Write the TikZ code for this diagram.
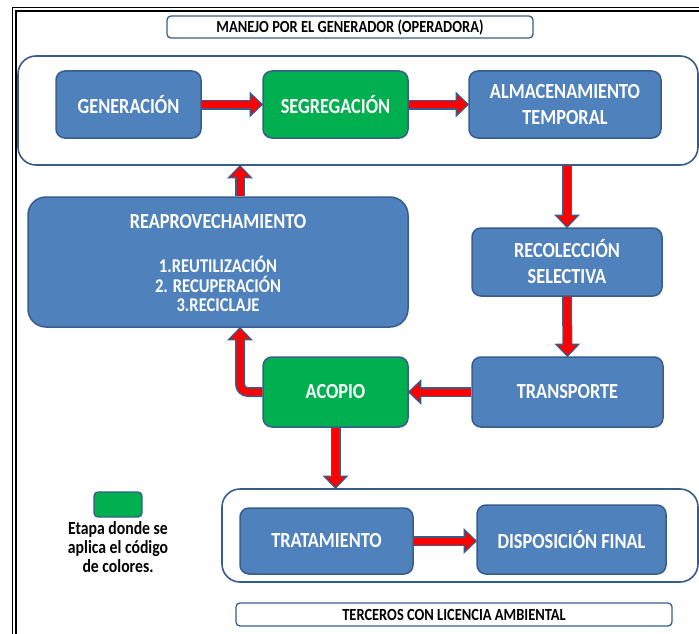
\documentclass[tikz,border=0pt]{standalone}
\usepackage{fontspec}
\setmainfont{Carlito}[FakeStretch=0.85]
\usetikzlibrary{calc}
\definecolor{bfill}{HTML}{4F81BD}
\definecolor{bline}{HTML}{385D8A}
\definecolor{gfill}{HTML}{00B050}
\definecolor{ared}{HTML}{FF0000}
\tikzset{
  stage/.style={draw=bline, line width=1.5pt, fill=bfill, rounded corners=9pt, text=white,
    font=\fontsize{21.5}{26}\selectfont\bfseries, align=center, inner sep=0pt},
  gstage/.style={stage, fill=gfill},
  panel/.style={draw=bline, line width=1.6pt, fill=white, rounded corners=18pt, inner sep=0pt},
  labelbox/.style={draw=bline, line width=1.3pt, fill=white, rounded corners=4pt,
    font=\fontsize{17}{19}\selectfont\bfseries, inner sep=0pt},
  fathead/.style={draw=bline, line width=1.2pt, fill=ared, line join=miter},
}
\newcommand\tiphead[2]{%
  \coordinate (hb) at ($(#2)!12pt!(#1)$);
  \filldraw[fathead] (#2) -- ($(hb)!11.5pt!90:(#2)$) -- ($(hb)!11.5pt!-90:(#2)$) -- cycle;}
\newcommand\fatarrow[3]{%
  \draw[bline, line width=10pt, shorten >=11pt, rounded corners=8pt] #1;
  \tiphead{#2}{#3}
  \draw[ared, line width=7pt, shorten >=10.5pt, rounded corners=8pt] #1;}
\begin{document}
\begin{tikzpicture}[x=1pt,y=-1pt]
\useasboundingbox (0,0) rectangle (699,634);
\clip (0,0) rectangle (699,634);
\fill[white] (0,0) rectangle (699,634);
% frame
\draw[black, line width=1.4pt] (12.5,7.5) rectangle (730,665);
\draw[black, line width=1.2pt] (16,11) rectangle (726,661);
% panels
\node[panel, minimum width=680pt, minimum height=109pt] (topbox) at (358,110.5) {};
\node[panel, minimum width=476pt, minimum height=93pt] (botbox) at (460,535.5) {};
\node[labelbox, minimum width=366pt, minimum height=22pt] (title) at (350,27) {MANEJO POR EL GENERADOR (OPERADORA)};
\node[labelbox, minimum width=436pt, minimum height=23pt] (terc) at (454,614.5) {TERCEROS CON LICENCIA AMBIENTAL};
% stages
\node[stage, minimum width=145pt, minimum height=67pt] (gen) at (128.5,104.5) {GENERACIÓN};
\node[gstage, minimum width=145pt, minimum height=67pt] (seg) at (335.5,104.5) {SEGREGACIÓN};
\node[stage, minimum width=192pt, minimum height=67pt] (alm) at (565,104.5) {ALMACENAMIENTO\\TEMPORAL};
\node[stage, minimum width=380pt, minimum height=130pt, rounded corners=18pt] (reap) at (218,262) {};
\node[text=white, font=\fontsize{21.5}{26}\selectfont\bfseries] (reapt) at (218,222) {REAPROVECHAMIENTO};
\node[text=white, font=\fontsize{19.5}{19.5}\selectfont\bfseries, align=center] (reapl) at (218,284) {1.REUTILIZACIÓN\\2. RECUPERACIÓN\\3.RECICLAJE};
\node[stage, minimum width=190pt, minimum height=68pt] (rec) at (567,262) {RECOLECCIÓN\\SELECTIVA};
\node[stage, minimum width=191pt, minimum height=70pt] (trans) at (567.5,392) {TRANSPORTE};
\node[gstage, minimum width=145pt, minimum height=70pt] (acop) at (335.5,392) {ACOPIO};
\node[stage, minimum width=173pt, minimum height=66pt] (trat) at (326.5,541) {TRATAMIENTO};
\node[stage, minimum width=189pt, minimum height=69pt] (disp) at (571.5,539.5) {DISPOSICIÓN FINAL};
% legend
\node[draw=bline, line width=1.3pt, fill=gfill, rounded corners=4pt, minimum width=48pt, minimum height=25pt, inner sep=0pt] (leg) at (118,504.5) {};
\node[font=\fontsize{18.5}{19}\selectfont\bfseries, align=center, text=black] (legt) at (118,547) {Etapa donde se\\aplica el código\\de colores.};
% helper coordinates
\coordinate (upx) at (240,0);
\coordinate (rtop) at (reap.north -| upx);
\coordinate (tbot) at (topbox.south -| upx);
\coordinate (tbot2) at (topbox.south -| rec.north);
\coordinate (elb) at (upx |- acop.west);
\coordinate (rbot) at (reap.south -| upx);
\coordinate (bbtop) at (botbox.north -| acop.south);
\coordinate (dispw) at (trat.east -| disp.west);
% arrows
\fatarrow{(gen.east) -- (seg.west)}{gen.east}{seg.west}
\fatarrow{(seg.east) -- (alm.west)}{seg.east}{alm.west}
\fatarrow{(rtop) -- (tbot)}{rtop}{tbot}
\fatarrow{(tbot2) -- (rec.north)}{tbot2}{rec.north}
\fatarrow{(rec.south) -- (trans.north)}{rec.south}{trans.north}
\fatarrow{(trans.west) -- (acop.east)}{trans.west}{acop.east}
\fatarrow{(acop.west) -- (elb) -- (rbot)}{elb}{rbot}
\fatarrow{(acop.south) -- (bbtop)}{acop.south}{bbtop}
\fatarrow{(trat.east) -- (dispw)}{trat.east}{dispw}
\end{tikzpicture}
\end{document}
